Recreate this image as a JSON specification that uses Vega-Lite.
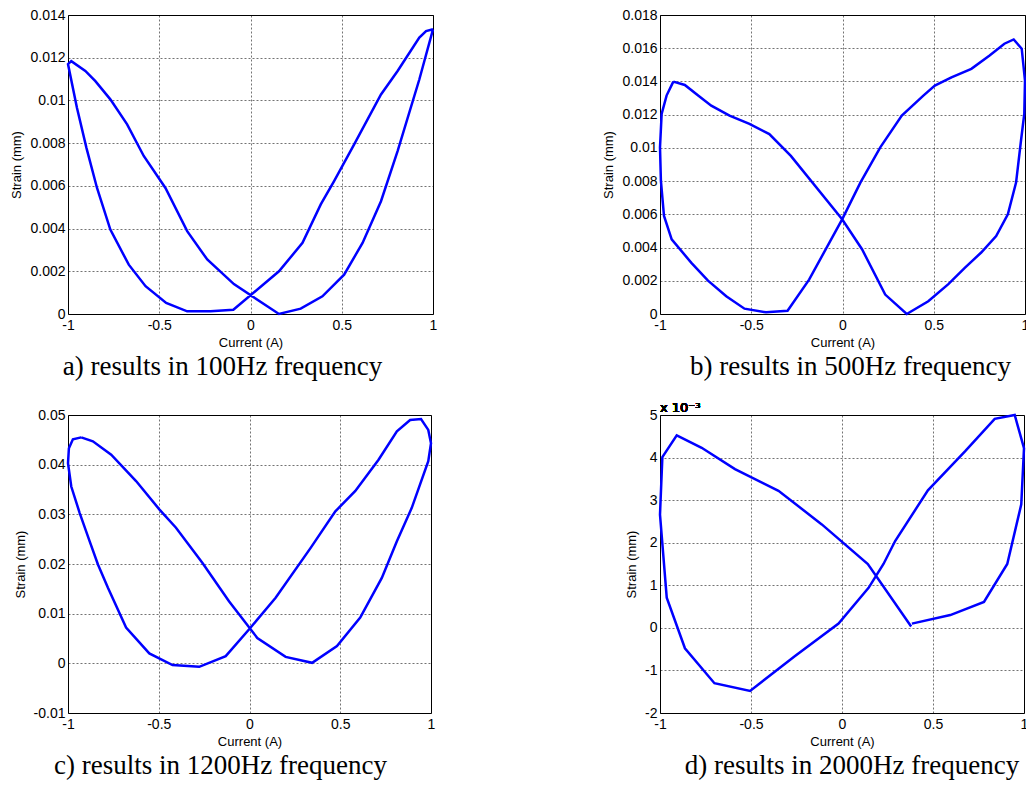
{
  "$schema": "https://vega.github.io/schema/vega-lite/v6.json",
  "padding": {"left": 10, "top": 7, "right": 0, "bottom": 0},
  "background": "white",
  "config": {
    "locale": {"number": {"decimal": ".", "thousands": ",", "grouping": [3], "currency": ["$", ""], "minus": "-"}},
    "view": {"stroke": "#000", "strokeWidth": 1},
    "axis": {
      "domain": false, "ticks": false, "grid": true,
      "gridColor": "#000", "gridDash": [2, 2], "gridOpacity": 0.55, "gridWidth": 1,
      "labelFont": "Liberation Sans", "labelFontSize": 14, "labelColor": "#000",
      "labelFlush": false, "labelOverlap": false,
      "titleFont": "Liberation Sans", "titleFontSize": 13, "titleFontWeight": "normal", "titleColor": "#000"
    },
    "axisX": {"labelPadding": 4, "titlePadding": 4},
    "axisY": {"labelPadding": 3, "titlePadding": 6},
    "title": {"font": "Liberation Serif", "fontSize": 27, "fontWeight": "normal", "color": "#000", "orient": "bottom", "anchor": "middle", "frame": "group", "offset": 5},
    "line": {"color": "#0000FF", "strokeWidth": 2.5}
  },
  "datasets": {
    "a": [
      {"i": 0, "current": 1.0, "strain": 0.01333},
      {"i": 1, "current": 0.925, "strain": 0.01098},
      {"i": 2, "current": 0.806, "strain": 0.00763},
      {"i": 3, "current": 0.715, "strain": 0.00528},
      {"i": 4, "current": 0.614, "strain": 0.00333},
      {"i": 5, "current": 0.513, "strain": 0.00184},
      {"i": 6, "current": 0.394, "strain": 0.00083},
      {"i": 7, "current": 0.275, "strain": 0.00025},
      {"i": 8, "current": 0.156, "strain": 0.0},
      {"i": 9, "current": -0.091, "strain": 0.0014},
      {"i": 10, "current": -0.237, "strain": 0.00255},
      {"i": 11, "current": -0.347, "strain": 0.00388},
      {"i": 12, "current": -0.466, "strain": 0.0059},
      {"i": 13, "current": -0.585, "strain": 0.0074},
      {"i": 14, "current": -0.676, "strain": 0.00888},
      {"i": 15, "current": -0.768, "strain": 0.01005},
      {"i": 16, "current": -0.85, "strain": 0.0109},
      {"i": 17, "current": -0.905, "strain": 0.01138},
      {"i": 18, "current": -0.982, "strain": 0.01184},
      {"i": 19, "current": -1.0, "strain": 0.0117},
      {"i": 20, "current": -0.951, "strain": 0.00966},
      {"i": 21, "current": -0.899, "strain": 0.00778},
      {"i": 22, "current": -0.841, "strain": 0.0059},
      {"i": 23, "current": -0.768, "strain": 0.00395},
      {"i": 24, "current": -0.667, "strain": 0.00231},
      {"i": 25, "current": -0.575, "strain": 0.0013},
      {"i": 26, "current": -0.462, "strain": 0.00052},
      {"i": 27, "current": -0.347, "strain": 0.000125},
      {"i": 28, "current": -0.219, "strain": 0.000125},
      {"i": 29, "current": -0.094, "strain": 0.0002},
      {"i": 30, "current": 0.156, "strain": 0.002},
      {"i": 31, "current": 0.285, "strain": 0.00333},
      {"i": 32, "current": 0.385, "strain": 0.00513},
      {"i": 33, "current": 0.458, "strain": 0.00622},
      {"i": 34, "current": 0.568, "strain": 0.00794},
      {"i": 35, "current": 0.715, "strain": 0.01028},
      {"i": 36, "current": 0.806, "strain": 0.01138},
      {"i": 37, "current": 0.925, "strain": 0.01294},
      {"i": 38, "current": 0.962, "strain": 0.01325},
      {"i": 39, "current": 1.0, "strain": 0.01333}
    ],
    "b": [
      {"i": 0, "current": -0.927, "strain": 0.01399},
      {"i": 1, "current": -0.864, "strain": 0.01379},
      {"i": 2, "current": -0.791, "strain": 0.01315},
      {"i": 3, "current": -0.719, "strain": 0.01254},
      {"i": 4, "current": -0.619, "strain": 0.01194},
      {"i": 5, "current": -0.51, "strain": 0.01144},
      {"i": 6, "current": -0.401, "strain": 0.01083},
      {"i": 7, "current": -0.283, "strain": 0.00952},
      {"i": 8, "current": -0.002, "strain": 0.0057},
      {"i": 9, "current": 0.107, "strain": 0.0039},
      {"i": 10, "current": 0.234, "strain": 0.00117},
      {"i": 11, "current": 0.352, "strain": 0.0},
      {"i": 12, "current": 0.47, "strain": 0.00077},
      {"i": 13, "current": 0.58, "strain": 0.0018},
      {"i": 14, "current": 0.67, "strain": 0.00278},
      {"i": 15, "current": 0.76, "strain": 0.0037},
      {"i": 16, "current": 0.842, "strain": 0.00469},
      {"i": 17, "current": 0.906, "strain": 0.006},
      {"i": 18, "current": 0.951, "strain": 0.00791},
      {"i": 19, "current": 0.978, "strain": 0.01043},
      {"i": 20, "current": 0.996, "strain": 0.01204},
      {"i": 21, "current": 1.0, "strain": 0.01405},
      {"i": 22, "current": 0.982, "strain": 0.01597},
      {"i": 23, "current": 0.938, "strain": 0.01653},
      {"i": 24, "current": 0.887, "strain": 0.01627},
      {"i": 25, "current": 0.806, "strain": 0.01556},
      {"i": 26, "current": 0.706, "strain": 0.01476},
      {"i": 27, "current": 0.597, "strain": 0.01425},
      {"i": 28, "current": 0.506, "strain": 0.01375},
      {"i": 29, "current": 0.443, "strain": 0.01315},
      {"i": 30, "current": 0.325, "strain": 0.01194},
      {"i": 31, "current": 0.207, "strain": 0.01003},
      {"i": 32, "current": 0.098, "strain": 0.00791},
      {"i": 33, "current": -0.002, "strain": 0.0057},
      {"i": 34, "current": -0.183, "strain": 0.00207},
      {"i": 35, "current": -0.301, "strain": 0.0002},
      {"i": 36, "current": -0.419, "strain": 0.0001},
      {"i": 37, "current": -0.537, "strain": 0.00032},
      {"i": 38, "current": -0.637, "strain": 0.00107},
      {"i": 39, "current": -0.737, "strain": 0.00201},
      {"i": 40, "current": -0.828, "strain": 0.00308},
      {"i": 41, "current": -0.936, "strain": 0.00449},
      {"i": 42, "current": -0.978, "strain": 0.0059},
      {"i": 43, "current": -0.995, "strain": 0.00801},
      {"i": 44, "current": -1.0, "strain": 0.01003},
      {"i": 45, "current": -0.991, "strain": 0.01204},
      {"i": 46, "current": -0.964, "strain": 0.01315},
      {"i": 47, "current": -0.927, "strain": 0.01399}
    ],
    "c": [
      {"i": 0, "current": -0.927, "strain": 0.0455},
      {"i": 1, "current": -0.863, "strain": 0.0447},
      {"i": 2, "current": -0.762, "strain": 0.042},
      {"i": 3, "current": -0.625, "strain": 0.0367},
      {"i": 4, "current": -0.497, "strain": 0.031},
      {"i": 5, "current": -0.405, "strain": 0.0273},
      {"i": 6, "current": -0.259, "strain": 0.0202},
      {"i": 7, "current": -0.113, "strain": 0.0125},
      {"i": 8, "current": 0.043, "strain": 0.0051},
      {"i": 9, "current": 0.199, "strain": 0.0013},
      {"i": 10, "current": 0.345, "strain": 0.0001},
      {"i": 11, "current": 0.482, "strain": 0.0035},
      {"i": 12, "current": 0.61, "strain": 0.0092},
      {"i": 13, "current": 0.729, "strain": 0.0172},
      {"i": 14, "current": 0.812, "strain": 0.0246},
      {"i": 15, "current": 0.894, "strain": 0.0313},
      {"i": 16, "current": 0.985, "strain": 0.0407},
      {"i": 17, "current": 1.0, "strain": 0.0443},
      {"i": 18, "current": 0.985, "strain": 0.047},
      {"i": 19, "current": 0.945, "strain": 0.0492},
      {"i": 20, "current": 0.885, "strain": 0.049},
      {"i": 21, "current": 0.812, "strain": 0.0467},
      {"i": 22, "current": 0.711, "strain": 0.041},
      {"i": 23, "current": 0.583, "strain": 0.0347},
      {"i": 24, "current": 0.473, "strain": 0.0306},
      {"i": 25, "current": 0.336, "strain": 0.0232},
      {"i": 26, "current": 0.144, "strain": 0.0132},
      {"i": 27, "current": -0.003, "strain": 0.0068},
      {"i": 28, "current": -0.131, "strain": 0.00146},
      {"i": 29, "current": -0.277, "strain": -0.0007},
      {"i": 30, "current": -0.424, "strain": -0.00035},
      {"i": 31, "current": -0.552, "strain": 0.002},
      {"i": 32, "current": -0.68, "strain": 0.0072},
      {"i": 33, "current": -0.78, "strain": 0.0152},
      {"i": 34, "current": -0.835, "strain": 0.0199},
      {"i": 35, "current": -0.881, "strain": 0.0246},
      {"i": 36, "current": -0.936, "strain": 0.0303},
      {"i": 37, "current": -0.982, "strain": 0.0356},
      {"i": 38, "current": -1.0, "strain": 0.0403},
      {"i": 39, "current": -0.995, "strain": 0.0433},
      {"i": 40, "current": -0.973, "strain": 0.0451},
      {"i": 41, "current": -0.927, "strain": 0.0455}
    ],
    "d": [
      {"i": 0, "current": 0.38, "strain_e3": 0.03},
      {"i": 1, "current": 0.142, "strain_e3": 1.5},
      {"i": 2, "current": -0.111, "strain_e3": 2.43},
      {"i": 3, "current": -0.349, "strain_e3": 3.22},
      {"i": 4, "current": -0.588, "strain_e3": 3.73},
      {"i": 5, "current": -0.771, "strain_e3": 4.23},
      {"i": 6, "current": -0.908, "strain_e3": 4.52},
      {"i": 7, "current": -0.987, "strain_e3": 4.01},
      {"i": 8, "current": -1.0, "strain_e3": 2.66},
      {"i": 9, "current": -0.963, "strain_e3": 0.71},
      {"i": 10, "current": -0.863, "strain_e3": -0.48},
      {"i": 11, "current": -0.701, "strain_e3": -1.3},
      {"i": 12, "current": -0.505, "strain_e3": -1.48},
      {"i": 13, "current": -0.258, "strain_e3": -0.66},
      {"i": 14, "current": -0.019, "strain_e3": 0.1},
      {"i": 15, "current": 0.146, "strain_e3": 0.94},
      {"i": 16, "current": 0.228, "strain_e3": 1.5},
      {"i": 17, "current": 0.292, "strain_e3": 2.04},
      {"i": 18, "current": 0.472, "strain_e3": 3.23},
      {"i": 19, "current": 0.677, "strain_e3": 4.15},
      {"i": 20, "current": 0.839, "strain_e3": 4.91},
      {"i": 21, "current": 0.949, "strain_e3": 5.0},
      {"i": 22, "current": 1.0, "strain_e3": 4.22},
      {"i": 23, "current": 0.985, "strain_e3": 2.9},
      {"i": 24, "current": 0.908, "strain_e3": 1.5},
      {"i": 25, "current": 0.78, "strain_e3": 0.61},
      {"i": 26, "current": 0.595, "strain_e3": 0.3},
      {"i": 27, "current": 0.384, "strain_e3": 0.1}
    ]
  },
  "columns": 2,
  "spacing": {"row": 101, "column": 227},
  "bounds": "flush",
  "concat": [
    {
      "data": {"name": "a"},
      "width": 365, "height": 299,
      "title": {"text": "a) results in 100Hz frequency", "dx": -28},
      "mark": {"type": "line"},
      "encoding": {
        "x": {"field": "current", "type": "quantitative", "scale": {"domain": [-1, 1], "nice": false}, "axis": {"values": [-1, -0.5, 0, 0.5, 1], "format": "~g", "title": "Current (A)"}},
        "y": {"field": "strain", "type": "quantitative", "scale": {"domain": [0, 0.014], "nice": false}, "axis": {"values": [0, 0.002, 0.004, 0.006, 0.008, 0.01, 0.012, 0.014], "format": "~g", "title": "Strain (mm)"}},
        "order": {"field": "i", "type": "quantitative"}
      }
    },
    {
      "data": {"name": "b"},
      "width": 365, "height": 299,
      "title": {"text": "b) results in 500Hz frequency", "dx": 8},
      "mark": {"type": "line"},
      "encoding": {
        "x": {"field": "current", "type": "quantitative", "scale": {"domain": [-1, 1], "nice": false}, "axis": {"values": [-1, -0.5, 0, 0.5, 1], "format": "~g", "title": "Current (A)"}},
        "y": {"field": "strain", "type": "quantitative", "scale": {"domain": [0, 0.018], "nice": false}, "axis": {"values": [0, 0.002, 0.004, 0.006, 0.008, 0.01, 0.012, 0.014, 0.016, 0.018], "format": "~g", "title": "Strain (mm)"}},
        "order": {"field": "i", "type": "quantitative"}
      }
    },
    {
      "data": {"name": "c"},
      "width": 363, "height": 298,
      "title": {"text": "c) results in 1200Hz frequency", "dx": -29},
      "mark": {"type": "line"},
      "encoding": {
        "x": {"field": "current", "type": "quantitative", "scale": {"domain": [-1, 1], "nice": false}, "axis": {"values": [-1, -0.5, 0, 0.5, 1], "format": "~g", "title": "Current (A)"}},
        "y": {"field": "strain", "type": "quantitative", "scale": {"domain": [-0.01, 0.05], "nice": false}, "axis": {"values": [-0.01, 0, 0.01, 0.02, 0.03, 0.04, 0.05], "format": "~g", "title": "Strain (mm)"}},
        "order": {"field": "i", "type": "quantitative"}
      }
    },
    {
      "data": {"name": "d"},
      "width": 364, "height": 298,
      "title": {"text": "d) results in 2000Hz frequency", "dx": 10},
      "layer": [
        {
          "mark": {"type": "line"},
          "encoding": {
            "x": {"field": "current", "type": "quantitative", "scale": {"domain": [-1, 1], "nice": false}, "axis": {"values": [-1, -0.5, 0, 0.5, 1], "format": "~g", "title": "Current (A)"}},
            "y": {"field": "strain_e3", "type": "quantitative", "scale": {"domain": [-2, 5], "nice": false}, "axis": {"values": [-2, -1, 0, 1, 2, 3, 4, 5], "format": "~g", "title": "Strain (mm)"}},
            "order": {"field": "i", "type": "quantitative"}
          }
        },
        {
          "mark": {"type": "text", "align": "left", "baseline": "alphabetic", "dy": -3, "font": "DejaVu Sans", "fontSize": 13, "fontWeight": "normal", "color": "#000"},
          "encoding": {
            "x": {"datum": -1, "type": "quantitative"},
            "y": {"datum": 5, "type": "quantitative"},
            "text": {"value": "x 10⁻³"}
          }
        }
      ]
    }
  ]
}
